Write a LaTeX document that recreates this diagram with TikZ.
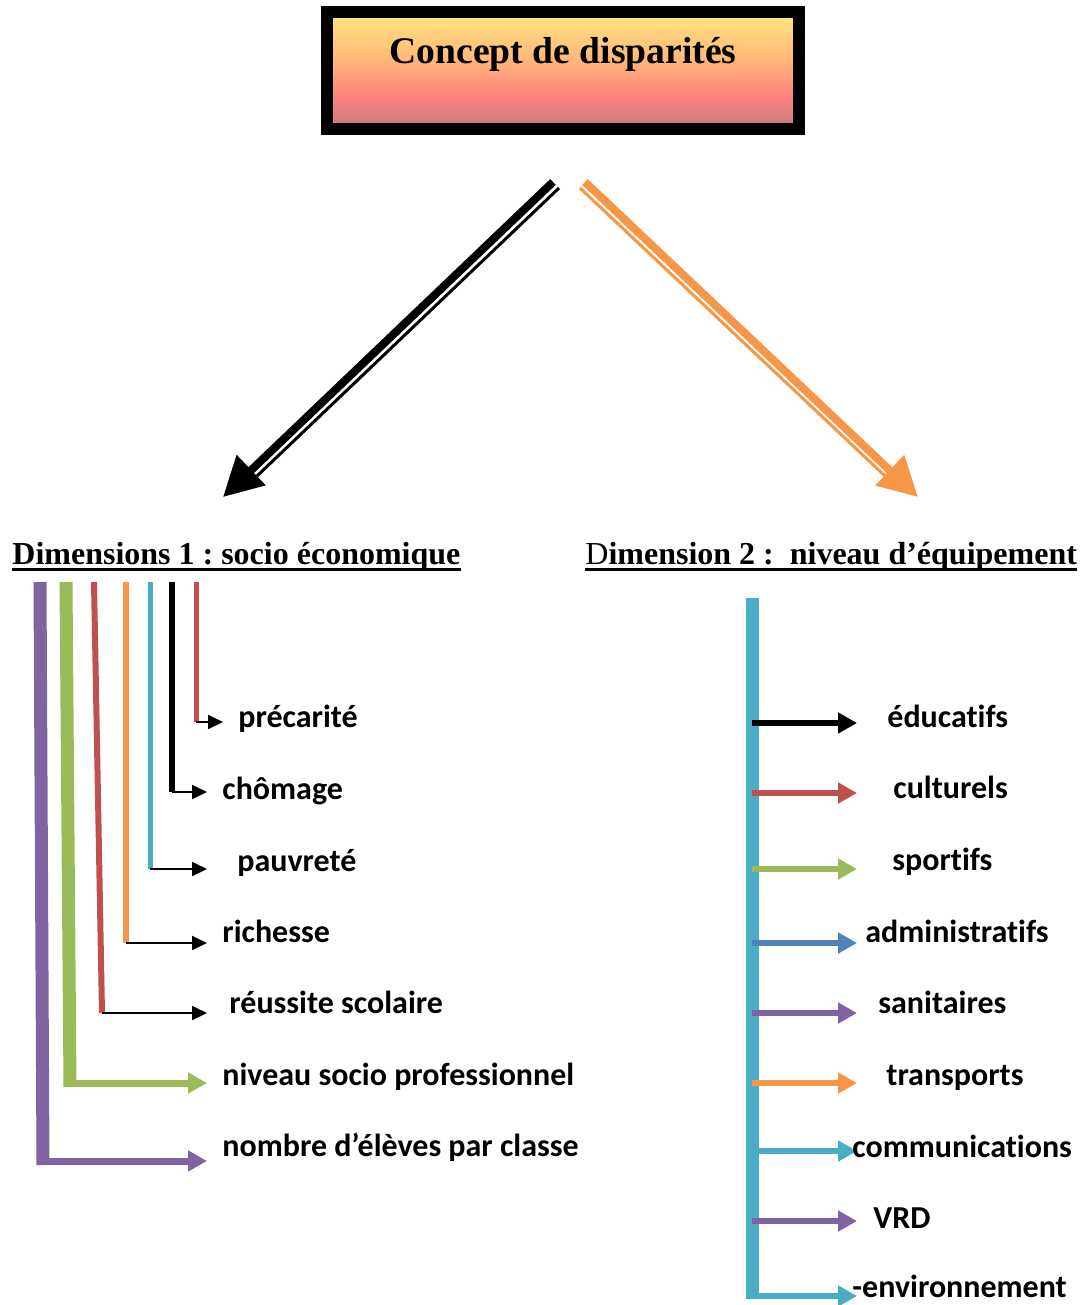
\documentclass[tikz,border=0pt]{standalone}
\usepackage{fontspec}
\setmainfont{Liberation Serif}
\newfontfamily\lblfont[Ligatures=NoCommon]{Carlito}
\usetikzlibrary{arrows.meta,positioning}
\frenchspacing
\definecolor{purp}{HTML}{8064A2}
\definecolor{grn}{HTML}{9BBB59}
\definecolor{rd}{HTML}{C0504D}
\definecolor{orng}{HTML}{F79646}
\definecolor{aqua}{HTML}{4BACC6}
\definecolor{blu}{HTML}{4F81BD}
\definecolor{yellowT}{HTML}{FFE780}
\definecolor{peachT}{HTML}{FFB878}
\definecolor{pinkT}{HTML}{FF8080}
\definecolor{mauveT}{HTML}{BF8080}
\pgfdeclareverticalshading{titleshade}{100bp}{color(0bp)=(mauveT); color(25bp)=(mauveT); color(39bp)=(pinkT); color(55bp)=(peachT); color(75bp)=(yellowT); color(100bp)=(yellowT)}

\begin{document}
\begin{tikzpicture}[x=0.5pt,y=-0.5pt,
  lbl/.style={anchor=base west,inner sep=0pt,font=\lblfont\bfseries\fontsize{16}{18}\selectfont},
  head/.style={anchor=base west,inner sep=0pt,font=\bfseries\fontsize{16}{18}\selectfont},
  thinarr/.style={line width=1pt,-{Triangle[length=7.5pt,width=7pt]}},
  fatarr/.style={line width=3.5pt,-{Triangle[length=9.5pt,width=10pt]}},
  eqarr/.style={line width=3pt,-{Triangle[length=9.5pt,width=10pt]}}]
  \useasboundingbox (0,0) rectangle (1090,1305);

  % title box
  \node[draw=black,line width=6pt,outer sep=0pt,shade,shading=titleshade,minimum width=236pt,minimum height=58.5pt,inner sep=0pt] (box) at (563,70.5) {};
  \node[anchor=base,inner sep=0pt,font=\bfseries\fontsize{18.8}{22}\selectfont] (title) at (563,64) {Concept de disparités};

  % the two double arrows
  \coordinate (la) at ([shift={(-10,53)}]box.south);
  \coordinate (la2) at ([shift={(-4,59)}]box.south);
  \coordinate (lb) at (223,497);
  \coordinate (lb2) at (257,476);
  \draw[line width=4pt,-{Triangle[length=19.5pt,width=20pt]}] (la) -- (lb);
  \draw[line width=1.5pt] (la2) -- (lb2);
  \coordinate (ra) at ([shift={(22,53)}]box.south);
  \coordinate (ra2) at ([shift={(17,59)}]box.south);
  \coordinate (rb) at (918,497);
  \coordinate (rb2) at (885,476);
  \draw[orng,line width=4pt,-{Triangle[length=19.5pt,width=20pt]}] (ra) -- (rb);
  \draw[orng,line width=1.5pt] (ra2) -- (rb2);

  % headings
  \node[head] (h1) at (12,564) {Dimensions 1 : socio économique};
  \node[head] (h2) at (585,564) {{\mdseries D}imension 2 :\ \ niveau d’équipement};
  \draw[line width=1.5pt] ([yshift=-2.9pt]h1.base west) -- ([yshift=-2.9pt]h1.base east);
  \draw[line width=1.5pt] ([yshift=-2.9pt]h2.base west) -- ([yshift=-2.9pt]h2.base east);

  % socio economique
  \coordinate (ltip) at (207,0);
  \coordinate (ptip) at (223,0);
  \coordinate (v1t) at (40,582);  \coordinate (v1b) at (43,1161);
  \coordinate (v2t) at (66,582);  \coordinate (v2b) at (70,1083);
  \coordinate (v3t) at (94,582);  \coordinate (v3b) at (102,1013);
  \coordinate (v4t) at (126,582); \coordinate (v4b) at (126,943);
  \coordinate (v5t) at (150,582); \coordinate (v5b) at (150,869);
  \coordinate (v6t) at (172,582); \coordinate (v6b) at (172,792);
  \coordinate (v7t) at (196,582); \coordinate (v7b) at (196,722);

  \draw[purp,line width=6.5pt] (v1t) -- ([yshift=-2pt]v1b);
  \draw[grn,line width=6.5pt] (v2t) -- ([yshift=-2pt]v2b);
  \draw[rd,line width=3pt] (v3t) -- (v3b);
  \draw[orng,line width=3pt] (v4t) -- (v4b);
  \draw[aqua,line width=2.5pt] (v5t) -- (v5b);
  \draw[line width=3pt] (v6t) -- (v6b);
  \draw[rd,line width=2.5pt] (v7t) -- (v7b);

  \draw[purp,fatarr] (v1b) -- (v1b -| ltip);
  \draw[grn,fatarr] (v2b) -- (v2b -| ltip);
  \draw[thinarr] (v3b) -- (v3b -| ltip);
  \draw[thinarr] (v4b) -- (v4b -| ltip);
  \draw[thinarr] (v5b) -- (v5b -| ltip);
  \draw[thinarr] (v6b) -- (v6b -| ltip);
  \draw[thinarr] (v7b) -- (v7b -| ptip);

  \node[lbl] (prec) at (238,727) {précarité};
  \node[lbl] (chom) at (222,799) {chômage};
  \node[lbl] (pauv) at (237,871) {pauvreté};
  \node[lbl] (rich) at (222,942) {richesse};
  \node[lbl] (reus) at (229,1013) {réussite scolaire};
  \node[lbl] (nsp) at (222,1085) {niveau socio professionnel};
  \node[lbl] (nbe) at (222,1156) {nombre d’élèves par classe};

  % niveau d'equipement
  \coordinate (rtip) at (857,0);
  \coordinate (bt) at (752,598);
  \coordinate (bb) at (752,1296);
  \draw[aqua,line width=6.5pt] (bt) -- ([yshift=-1.5pt]bb);
  \coordinate (r1) at (752,723);
  \coordinate (r2) at (752,793);
  \coordinate (r3) at (752,869);
  \coordinate (r4) at (752,943);
  \coordinate (r5) at (752,1013);
  \coordinate (r6) at (752,1083);
  \coordinate (r7) at (752,1151);
  \coordinate (r8) at (752,1221);
  \draw[eqarr] (r1) -- (r1 -| rtip);
  \draw[rd,eqarr] (r2) -- (r2 -| rtip);
  \draw[grn,eqarr] (r3) -- (r3 -| rtip);
  \draw[blu,eqarr] (r4) -- (r4 -| rtip);
  \draw[purp,eqarr] (r5) -- (r5 -| rtip);
  \draw[orng,eqarr] (r6) -- (r6 -| rtip);
  \draw[aqua,eqarr] (r7) -- (r7 -| rtip);
  \draw[purp,eqarr] (r8) -- (r8 -| rtip);
  \draw[aqua,eqarr] (bb) -- (bb -| rtip);

  \node[lbl] (edu) at (887,727) {éducatifs};
  \node[lbl] (cult) at (893,798) {culturels};
  \node[lbl] (sport) at (892,870) {sportifs};
  \node[lbl] (admin) at (865,942) {administratifs};
  \node[lbl] (sani) at (878,1013) {sanitaires};
  \node[lbl] (trans) at (886,1085) {transports};
  \node[lbl] (comm) at (852,1157) {communications};
  \node[lbl] (vrd) at (873,1228) {VRD};
  \node[lbl] (envi) at (852,1297) {-environnement};
\end{tikzpicture}
\end{document}
